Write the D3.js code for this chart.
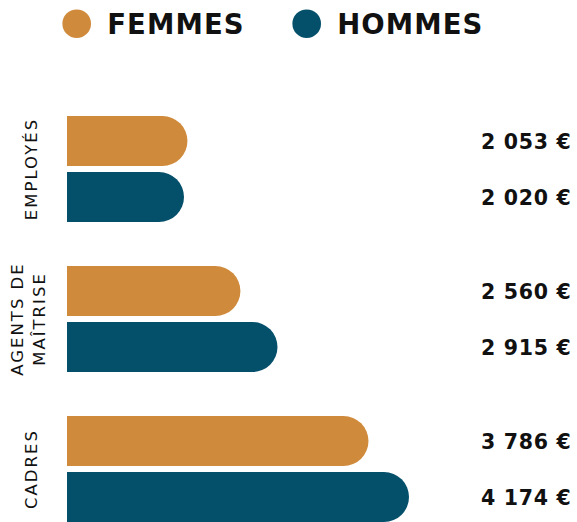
<!DOCTYPE html>
<html>
<head>
<meta charset="utf-8">
<script src="https://cdn.jsdelivr.net/npm/d3@7"></script>
<style>
  html, body { margin: 0; padding: 0; background: #fff; }
  svg { display: block; }
</style>
</head>
<body>
<svg id="chart"></svg>
<script>
const categories = [['EMPLOYÉS'], ['AGENTS DE', 'MAÎTRISE'], ['CADRES']];
const categoryKeys = ['employes', 'agents', 'cadres'];
const sexes = ['FEMMES', 'HOMMES'];
const femmes = [2053, 2560, 3786];
const hommes = [2020, 2915, 4174];
const colors = { FEMMES: '#d08a3b', HOMMES: '#044f6a' };

const width = 577;
const height = 522;
const svg = d3.select('#chart').attr('width', width).attr('height', height);

const fmt = v => d3.format(',')(v).replace(',', ' ') + ' €';
const font = '"DejaVu Sans", sans-serif';

// bars are not drawn to a zero baseline in the original
const x = d3.scaleLinear().domain([900, 4174]).range([67, 409]);

const yGroup = d3.scaleBand()
  .domain(categoryKeys)
  .range([116, 522])
  .paddingInner(44 / 150)
  .paddingOuter(0);

const ySex = d3.scaleBand()
  .domain(sexes)
  .range([0, yGroup.bandwidth()])
  .paddingInner(6 / 56);

const rows = [];
categoryKeys.forEach((key, i) => {
  rows.push({ key, sex: 'FEMMES', value: femmes[i] });
  rows.push({ key, sex: 'HOMMES', value: hommes[i] });
});

function barPath(x0, x1, y0, h) {
  const r = h / 2;
  const xe = Math.max(x0, x1 - r);
  return `M${x0},${y0}H${xe}A${r},${r} 0 0 1 ${xe},${y0 + h}H${x0}Z`;
}

svg.append('g')
  .selectAll('path')
  .data(rows)
  .join('path')
  .attr('fill', d => colors[d.sex])
  .attr('d', d => barPath(x.range()[0], x(d.value), yGroup(d.key) + ySex(d.sex), ySex.bandwidth()));

// value labels
svg.append('g')
  .selectAll('text')
  .data(rows)
  .join('text')
  .attr('x', 481)
  .attr('y', d => yGroup(d.key) + ySex(d.sex) + ySex.bandwidth() / 2 + 7.5)
  .attr('font-family', font)
  .attr('font-weight', 700)
  .attr('font-size', '20.5px')
  .attr('letter-spacing', '0.7px')
  .attr('fill', '#111')
  .text(d => fmt(d.value));

// category labels (rotated)
const catG = svg.append('g');
categoryKeys.forEach((key, i) => {
  const lines = categories[i];
  const cy = yGroup(key) + yGroup.bandwidth() / 2;
  const t = catG.append('text')
    .attr('transform', `translate(${lines.length > 1 ? 22.7 : 36.5},${cy}) rotate(-90)`)
    .attr('text-anchor', 'middle')
    .attr('font-family', font)
    .attr('font-weight', 400)
    .attr('font-size', '16.5px')
    .attr('letter-spacing', '2px')
    .attr('fill', '#111');
  lines.forEach((line, j) => {
    t.append('tspan')
      .attr('x', 0)
      .attr('dy', j === 0 ? 0 : 22.3)
      .text(line);
  });
});

// legend
const legendX = { FEMMES: 76.7, HOMMES: 306.7 };
const legend = svg.append('g');
sexes.forEach(s => {
  legend.append('circle')
    .attr('cx', legendX[s])
    .attr('cy', 23.7)
    .attr('r', 14.3)
    .attr('fill', colors[s]);
  legend.append('text')
    .attr('x', legendX[s] + 30.5)
    .attr('y', 34.3)
    .attr('font-family', font)
    .attr('font-weight', 700)
    .attr('font-size', '27.5px')
    .attr('letter-spacing', '1.1px')
    .attr('fill', '#111')
    .text(s);
});
</script>
</body>
</html>
